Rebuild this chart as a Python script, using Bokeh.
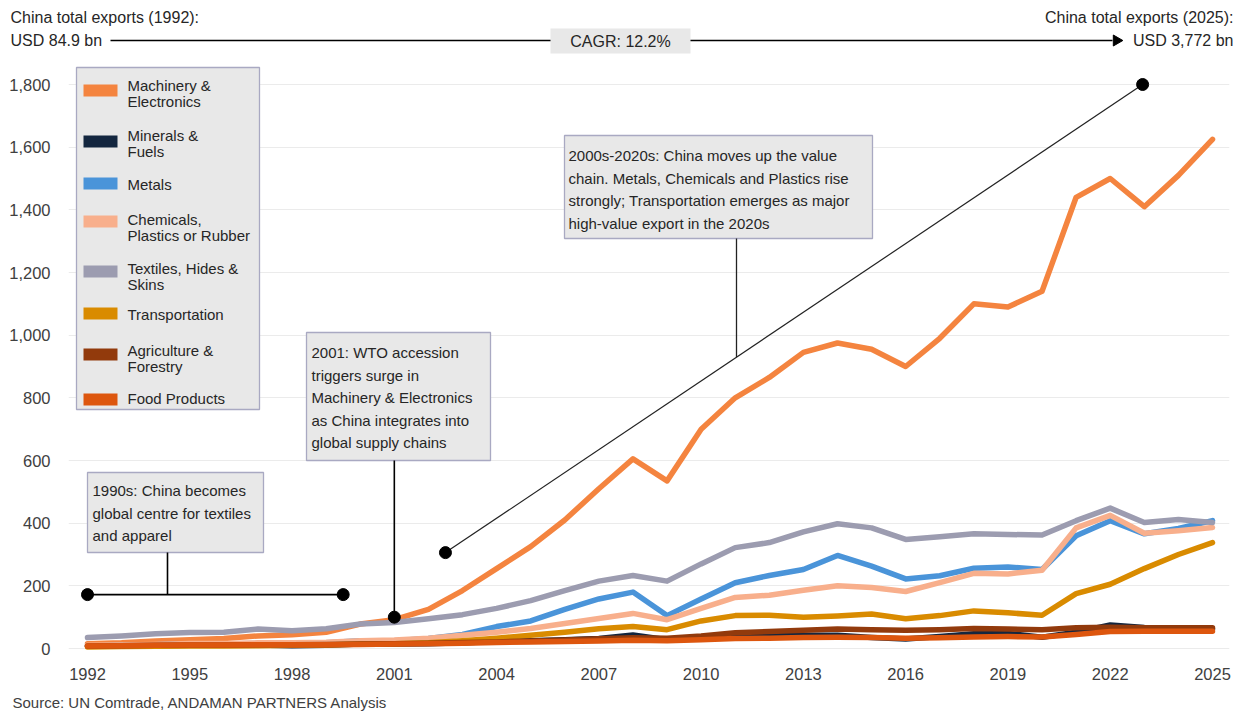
import math
from bokeh.plotting import figure
from bokeh.layouts import column
from bokeh.models import Range1d, FixedTicker, NumeralTickFormatter
from bokeh.core.properties import value
from bokeh.embed import file_html
from bokeh.resources import INLINE

# ---- data: China exports by product group, USD bn ----
years = list(range(1992, 2026))

machinery = [15, 18, 24, 28, 32, 40, 44, 52, 78, 92, 125, 185, 255, 325, 410, 510, 605,
             535, 700, 800, 865, 945, 975, 955, 900, 990, 1100, 1090, 1140, 1440, 1500,
             1410, 1510, 1625]
minerals = [8, 8, 9, 10, 10, 11, 9, 10, 14, 14, 15, 18, 22, 25, 28, 32, 43, 28, 33, 40,
            40, 42, 42, 35, 30, 38, 47, 48, 36, 52, 75, 67, 62, 62]
metals = [8, 10, 12, 15, 14, 16, 16, 18, 25, 25, 32, 45, 70, 88, 125, 158, 180, 105, 158,
          210, 233, 252, 297, 263, 222, 232, 256, 260, 252, 360, 408, 366, 383, 408]
chemicals = [10, 11, 13, 16, 16, 18, 18, 20, 25, 27, 33, 42, 52, 64, 80, 96, 112, 92, 128,
             163, 170, 186, 200, 195, 182, 210, 240, 238, 250, 385, 425, 368, 376, 386]
textiles = [35, 40, 47, 51, 52, 62, 57, 63, 78, 83, 95, 108, 128, 153, 185, 215, 233, 215,
            270, 322, 338, 372, 398, 385, 348, 357, 366, 364, 362, 408, 448, 402, 412, 402]
transport = [5, 6, 7, 8, 8, 9, 10, 11, 14, 15, 18, 25, 33, 42, 52, 63, 70, 60, 88, 105,
             106, 100, 104, 110, 95, 105, 120, 114, 106, 175, 205, 255, 300, 338]
agriculture = [8, 9, 10, 11, 11, 12, 12, 13, 14, 15, 17, 19, 21, 24, 27, 31, 34, 33, 40,
               50, 54, 58, 62, 60, 58, 60, 64, 62, 60, 66, 68, 66, 66, 66]
food = [8, 9, 10, 11, 11, 12, 12, 12, 13, 14, 15, 17, 19, 21, 22, 24, 26, 25, 28, 32, 33,
        35, 36, 35, 33, 34, 37, 38, 37, 45, 54, 55, 55, 55]

series_names = ["Machinery &\nElectronics", "Minerals &\nFuels", "Metals",
                "Chemicals,\nPlastics or Rubber", "Textiles, Hides &\nSkins",
                "Transportation", "Agriculture &\nForestry", "Food Products"]
series_values = [machinery, minerals, metals, chemicals, textiles, transport,
                 agriculture, food]
series_colors = ["#F4843F", "#13263F", "#4A94D9", "#F8AF8C", "#9C9CB0", "#D98B00",
                 "#923A0C", "#DD560E"]

x_ticks = list(range(1992, 2026, 3))
y_ticks = list(range(0, 1801, 200))

header_left = ["China total exports (1992):", "USD 84.9 bn"]
header_right = ["China total exports (2025):", "USD 3,772 bn"]
cagr_text = "CAGR: 12.2%"
source_text = "Source: UN Comtrade, ANDAMAN PARTNERS Analysis"

note_1990s = ["1990s: China becomes", "global centre for textiles", "and apparel"]
note_wto = ["2001: WTO accession", "triggers surge in", "Machinery & Electronics",
            "as China integrates into", "global supply chains"]
note_value = ["2000s-2020s: China moves up the value",
              "chain. Metals, Chemicals and Plastics rise",
              "strongly; Transportation emerges as major",
              "high-value export in the 2020s"]

# annotation anchors (year, USD bn)
bracket_1990s = ((1992.0, 172), (1999.5, 172))
wto_point = (2001.0, 100)
trend_start = (2002.5, 306)
trend_end = (2022.95, 1800)

# ---- page geometry (pixels) ----
W = 1244
HEAD_H = 60                                # header strip
FOOT_H = 24                                # source strip
MAIN_H = 712 - HEAD_H - FOOT_H
FL, FR = 68, 1229                          # frame left / right
FT, FB = 60, 650                           # frame top / bottom (page rows)
PX_FIRST, PX_LAST = 87, 1212               # pixel columns of 1992 and 2025
PY_ZERO, PY_TOP = 648, 84                  # pixel rows of 0 and 1800
ppy = (PX_LAST - PX_FIRST) / 33.0
ppu = (PY_ZERO - PY_TOP) / 1800.0


def X(px):
    return 1992 + (px - PX_FIRST) / ppy


def Y(py):
    return (PY_ZERO - py) / ppu


FONT = "Liberation Sans"
TXT = "#262626"
BOX_FILL = "#E8E8E8"
BOX_LINE = "#A9A9C2"


def blank_figure(height, y_top, y_bottom):
    f = figure(width=W, height=height, x_range=Range1d(0, W),
               y_range=Range1d(y_bottom, y_top), x_axis_type=None, y_axis_type=None,
               output_backend="svg", toolbar_location=None,
               min_border_left=0, min_border_right=0, min_border_top=0,
               min_border_bottom=0)
    f.outline_line_color = None
    f.xgrid.grid_line_color = None
    f.ygrid.grid_line_color = None
    f.frame_align = False
    return f


# ---- header strip: total exports and CAGR ----
head = blank_figure(HEAD_H, 0, HEAD_H)
head.segment(x0=[110], y0=[40], x1=[1112], y1=[40], line_color="black", line_width=1.5)
head.scatter([1116], [40], marker="triangle", angle=-math.pi / 2, size=11, color="black")
head.quad(left=[550], right=[690], top=[28], bottom=[53], fill_color=BOX_FILL,
          line_color=None)
head.text(x=[620], y=[41], text=[cagr_text], text_font=value(FONT),
          text_font_size="16px", text_color=TXT, text_baseline="middle",
          text_align="center")
head.text(x=[10, 10], y=[17, 40], text=header_left, text_font=value(FONT),
          text_font_size="16px", text_color=TXT, text_baseline="middle",
          text_align="left")
head.text(x=[1233, 1233], y=[17, 40], text=header_right, text_font=value(FONT),
          text_font_size="16px", text_color=TXT, text_baseline="middle",
          text_align="right")

# ---- main chart ----
p = figure(width=W, height=MAIN_H,
           x_range=Range1d(X(FL), X(FR)), y_range=Range1d(Y(FB), Y(FT)),
           output_backend="svg", toolbar_location=None,
           min_border_left=FL, min_border_right=W - FR,
           min_border_top=0, min_border_bottom=MAIN_H - (FB - FT))
p.outline_line_color = None
p.background_fill_color = "white"
p.border_fill_color = "white"
p.frame_align = False

xt = FixedTicker(ticks=x_ticks)
yt = FixedTicker(ticks=y_ticks)
p.xaxis.ticker = xt
p.yaxis.ticker = yt
p.ygrid.ticker = yt
p.yaxis.formatter = NumeralTickFormatter(format="0,0")
p.xgrid.grid_line_color = None
p.ygrid.grid_line_color = "#EBEBEB"
p.ygrid.grid_line_width = 1
for ax in (p.xaxis, p.yaxis):
    ax.axis_line_color = None
    ax.major_tick_line_color = None
    ax.minor_tick_line_color = None
    ax.major_label_text_font = FONT
    ax.major_label_text_font_size = "16.5px"
    ax.major_label_text_color = "#404040"
p.xaxis.major_label_standoff = 11
p.yaxis.major_label_standoff = 12

# series lines, first series at the bottom
for vals, col in zip(series_values, series_colors):
    p.line(years, vals, line_color=col, line_width=5.5,
           line_join="round", line_cap="round")


def text_block(lines, px, first_py, step, size="15px"):
    p.text(x=[X(px)] * len(lines),
           y=[Y(first_py + i * step) for i in range(len(lines))],
           text=lines, text_font=value(FONT), text_font_size=size,
           text_color=TXT, text_baseline="middle", text_align="left")


def note_box(left, top, right, bottom):
    p.quad(left=[X(left)], right=[X(right)], top=[Y(top)], bottom=[Y(bottom)],
           fill_color=BOX_FILL, line_color=BOX_LINE, line_width=1.3)


# 1990s note with bracket
note_box(87, 472, 263, 552)
text_block(note_1990s, 92, 490, 22.5)
(bx0, by), (bx1, _) = bracket_1990s
p.line([bx0, bx1], [by, by], line_color="black", line_width=1.6)
p.line([X(167), X(167)], [Y(552), by], line_color="black", line_width=1.6)
p.scatter([bx0, bx1], [by, by], size=12, color="black")

# WTO note
note_box(306, 332, 490, 460)
text_block(note_wto, 311, 352, 22.5)
p.line([wto_point[0], wto_point[0]], [Y(460), wto_point[1]], line_color="black",
       line_width=1.6)
p.scatter([wto_point[0]], [wto_point[1]], size=12, color="black")

# trend line and value-chain note
p.line([trend_start[0], trend_end[0]], [trend_start[1], trend_end[1]],
       line_color="#222222", line_width=1.2)
p.scatter([trend_start[0], trend_end[0]], [trend_start[1], trend_end[1]],
          size=12, color="black")
note_box(564, 135, 872, 238)
text_block(note_value, 568, 155, 22.5)
vx = X(736)
t = (vx - trend_start[0]) / (trend_end[0] - trend_start[0])
vy = trend_start[1] + t * (trend_end[1] - trend_start[1])
p.line([vx, vx], [Y(238), vy], line_color="#222222", line_width=1.3)

# legend
note_box(76, 67, 259, 409)
swatch_y = [90, 141, 183, 221, 271, 313, 354, 399]
first_line_y = [85, 135, 184, 219, 268, 314, 350, 398]
for name, col, sy, ty in zip(series_names, series_colors, swatch_y, first_line_y):
    p.quad(left=[X(83)], right=[X(117)], top=[Y(sy - 6)], bottom=[Y(sy + 6)],
           fill_color=col, line_color=None)
    text_block(name.split("\n"), 127, ty, 15.5, size="15px")

# ---- source strip ----
foot = blank_figure(FOOT_H, 712 - FOOT_H, 712)
foot.text(x=[12], y=[702], text=[source_text], text_font=value(FONT),
          text_font_size="15px", text_color="#404040", text_baseline="middle",
          text_align="left")

page = column(head, p, foot, spacing=0)
open("out.html", "w").write(file_html(page, INLINE))
